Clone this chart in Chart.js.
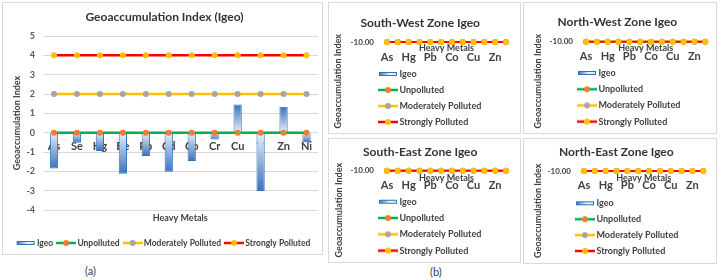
<!DOCTYPE html>
<html>
<head>
<meta charset="utf-8">
<script src="https://cdn.jsdelivr.net/npm/chart.js@4.4.1/dist/chart.umd.min.js"></script>
<style>
  body { margin: 0; background: #fff; width: 719px; height: 280px; position: relative; overflow: hidden; font-family: Lato, sans-serif; }
  .box { position: absolute; border: 1px solid #d9d9d9; box-sizing: border-box; }
  .box canvas { position: absolute; left: 0; top: 0; }
  .cap { position: absolute; font-size: 11px; color: #404040; }
</style>
</head>
<body>
<div class="box" style="left:2px;top:2px;width:321px;height:253px"><canvas id="chartA" width="319" height="251"></canvas></div>
<div class="box" style="left:328px;top:2px;width:193px;height:132px"><canvas id="chartSW" width="191" height="130"></canvas></div>
<div class="box" style="left:523px;top:2px;width:194px;height:132px"><canvas id="chartNW" width="192" height="130"></canvas></div>
<div class="box" style="left:328px;top:138px;width:193px;height:125px"><canvas id="chartSE" width="191" height="123"></canvas></div>
<div class="box" style="left:523px;top:138px;width:194px;height:126px"><canvas id="chartNE" width="192" height="124"></canvas></div>
<div class="cap" style="left:85px;top:264px">(a)</div>
<div class="cap" style="left:430px;top:265px">(b)</div>
<script>
// --- DONNÉES ---
const metals = ["As", "Se", "Hg", "Be", "Pb", "Cd", "Co", "Cr", "Cu", "V", "Zn", "Ni"];
const igeo = [-1.85, -0.52, -0.95, -2.12, -1.21, -2.02, -1.47, -0.35, 1.46, -3.02, 1.34, -0.49];
const unpolluted = [0, 0, 0, 0, 0, 0, 0, 0, 0, 0, 0, 0];
const moderately = [2, 2, 2, 2, 2, 2, 2, 2, 2, 2, 2, 2];
const strongly = [4, 4, 4, 4, 4, 4, 4, 4, 4, 4, 4, 4];
const yRangeA = [-4, 5];

// zones : tout est tracé sur -10.00
const zoneIgeo = [null, null, null, null, null, null, null, null, null, null, null, null];
const zoneLevel = [-10, -10, -10, -10, -10, -10, -10, -10, -10, -10, -10, -10];
const zoneTicks = [-10];
const zoneTitles = ["South-West Zone Igeo", "North-West Zone Igeo", "South-East Zone Igeo", "North-East Zone Igeo"];

Chart.defaults.font.family = "Lato";
Chart.defaults.color = "#404040";

// --- PASTILLES DE LÉGENDE ---
function lineSwatch(line, dot) {
  const c = document.createElement("canvas");
  c.width = 20; c.height = 8;
  const g = c.getContext("2d");
  g.strokeStyle = line; g.lineWidth = 2.5;
  g.beginPath(); g.moveTo(0, 4); g.lineTo(20, 4); g.stroke();
  g.fillStyle = dot;
  g.beginPath(); g.arc(10, 4, 3, 0, Math.PI * 2); g.fill();
  return c;
}
function barSwatch() {
  const c = document.createElement("canvas");
  c.width = 20; c.height = 8;
  const g = c.getContext("2d");
  const grad = g.createLinearGradient(1, 0, 19, 0);
  grad.addColorStop(0, "#3d6fc0");
  grad.addColorStop(0.6, "#eef3fa");
  grad.addColorStop(1, "#dbe6f4");
  g.fillStyle = grad; g.fillRect(1, 2, 18, 4);
  g.strokeStyle = "#2e75b6"; g.lineWidth = 1; g.strokeRect(1.5, 2.5, 17, 3);
  return c;
}
const swatches = [barSwatch(), lineSwatch("#00b050", "#ed7d31"), lineSwatch("#ffc000", "#a5a5a5"), lineSwatch("#ff0000", "#ffc000")];

function legendItems(chart) {
  return Chart.defaults.plugins.legend.labels.generateLabels(chart)
    .map((item) => ({ ...item, pointStyle: swatches[item.datasetIndex] }));
}
const byIndex = (a, b) => a.datasetIndex - b.datasetIndex;

// dégradé des barres : clair vers 0, foncé au bout
function barFill(ctx) {
  const chart = ctx.chart;
  const y = chart.scales.y;
  if (!y || ctx.raw == null) return "#8eaadb";
  const y0 = y.getPixelForValue(0), y1 = y.getPixelForValue(ctx.raw);
  if (!isFinite(y0) || !isFinite(y1) || y0 === y1) return "#8eaadb";
  const g = chart.ctx.createLinearGradient(0, y0, 0, y1);
  g.addColorStop(0, "#e9eff8");
  g.addColorStop(1, "#3d6fc0");
  return g;
}

function lineSet(label, data, line, dot, order, width) {
  return {
    type: "line", label: label, data: data, order: order, clip: false,
    borderColor: line, borderWidth: width,
    pointRadius: 3, pointBackgroundColor: dot, pointBorderColor: dot, pointBorderWidth: 0,
  };
}

// place la légende "chartArea" où on veut
const legendPlace = {
  id: "legendPlace",
  afterLayout(chart, args, opts) {
    const lg = chart.legend;
    if (!lg || opts.left === undefined) return;
    lg.left = opts.left; lg.right = opts.left + 200;
    lg.top = opts.top; lg.bottom = opts.top + 200;
  },
};

// --- (a) GRAPHIQUE PRINCIPAL ---
new Chart(document.getElementById("chartA"), {
  data: {
    labels: metals,
    datasets: [
      {
        type: "bar", label: "Igeo", data: igeo, order: 4,
        backgroundColor: barFill, borderColor: "#2e75b6", borderWidth: 1,
        barPercentage: 0.36, categoryPercentage: 1,
      },
      lineSet("Unpolluted", unpolluted, "#00b050", "#ed7d31", 3, 2.5),
      lineSet("Moderately Polluted", moderately, "#ffc000", "#a5a5a5", 2, 2.5),
      lineSet("Strongly Polluted", strongly, "#ff0000", "#ffc000", 1, 2.5),
    ],
  },
  options: {
    responsive: false,
    animation: false,
    layout: { padding: { left: 8, right: 4, top: 0, bottom: -3.25 } },
    scales: {
      x: {
        position: { y: 0 }, z: 1, offset: true,
        grid: { display: false, drawTicks: false }, border: { display: false },
        ticks: { padding: 7.4, autoSkip: false, maxRotation: 0, font: { size: 11, weight: "bold" }, color: "#404040" },
        afterFit: (s) => { s.height = 0; },
      },
      x2: {
        type: "category", position: "bottom",
        grid: { display: false, drawTicks: false }, border: { display: false }, ticks: { display: false },
        title: { display: true, text: "Heavy Metals", font: { size: 9, weight: "bold" }, color: "#404040", padding: { top: 2.6, bottom: 9.35 } },
      },
      y: {
        min: yRangeA[0], max: yRangeA[1],
        ticks: { stepSize: 1, padding: 7.5, font: { size: 9, weight: "bold" }, color: "#595959" },
        grid: { color: "#d9d9d9", drawTicks: false }, border: { display: false },
        title: { display: true, text: "Geoaccumulation Index", font: { size: 9, weight: "bold" }, color: "#404040", padding: { top: 0.6, bottom: 0 } },
        afterFit: (s) => { s.width = 31.5; },
      },
    },
    plugins: {
      title: { display: true, text: "Geoaccumulation Index (Igeo)", font: { size: 12, weight: "bold" }, color: "#333", padding: { top: 6.8, bottom: 11.8 } },
      legend: {
        position: "bottom",
        labels: { usePointStyle: true, pointStyleWidth: 14, padding: 6, font: { size: 8.5, weight: "bold" }, color: "#404040", generateLabels: legendItems, sort: byIndex },
      },
      tooltip: { enabled: false },
    },
  },
});

// --- (b) ZONES ---
function zoneChart(id, title, g) {
  const cv = document.getElementById(id);
  const pad = g.rowGap - 9;
  return new Chart(cv, {
    data: {
      labels: metals,
      datasets: [
        { type: "bar", label: "Igeo", data: zoneIgeo, order: 4, backgroundColor: "#9dc3e6", borderColor: "#2e75b6", borderWidth: 1 },
        lineSet("Unpolluted", zoneLevel, "#00b050", "#ed7d31", 3, 2),
        lineSet("Moderately Polluted", zoneLevel, "#ffc000", "#a5a5a5", 2, 2),
        lineSet("Strongly Polluted", zoneLevel, "#ff0000", "#ffc000", 1, 2),
      ],
    },
    options: {
      responsive: false,
      animation: false,
      layout: { padding: { left: 0, top: 0, right: cv.width - g.right, bottom: cv.height - g.bottom } },
      scales: {
        x: {
          position: { y: -10 }, z: 1, offset: true,
          grid: { display: false, drawTicks: false }, border: { display: false },
          ticks: {
            autoSkip: false, maxRotation: 0, padding: g.labelY - g.top - 6.6,
            font: { size: 11, weight: "bold" }, color: "#404040",
            callback: (v, i) => (i % 2 ? "" : metals[i]),
          },
          title: { display: true, text: "Heavy Metals", font: { size: 9, weight: "bold" }, color: "#404040", padding: { top: 0, bottom: g.top - g.hmY - 5.4 } },
          afterFit: (s) => { s.height = 0; },
        },
        y: {
          min: -30, max: -10,
          afterBuildTicks: (s) => { s.ticks = zoneTicks.map((v) => ({ value: v })); },
          ticks: { padding: g.left - g.tickRight, font: { size: 8, weight: "bold" }, color: "#404040", callback: (v) => Number(v).toFixed(2) },
          grid: { display: false, drawTicks: false }, border: { display: false },
          title: { display: true, text: "Geoaccumulation Index", font: { size: 9, weight: "bold" }, color: "#404040", padding: { top: g.yTitleX - 5.4, bottom: 0 } },
          afterFit: (s) => { s.width = g.left; },
        },
      },
      plugins: {
        title: { display: true, text: title, font: { size: 12, weight: "bold" }, color: "#333", padding: { top: g.titleY - 7.2, bottom: g.top - g.titleY - 7.2 } },
        legend: {
          position: "chartArea", align: "start",
          labels: { usePointStyle: true, pointStyleWidth: 14, padding: pad, font: { size: 9, weight: "bold" }, color: "#404040", generateLabels: legendItems, sort: byIndex },
        },
        legendPlace: { left: g.legLeft - pad + 3, top: g.legTop - 4.5 - pad },
        tooltip: { enabled: false },
      },
    },
    plugins: [legendPlace],
  });
}

zoneChart("chartSW", zoneTitles[0], { titleY: 20, top: 39, left: 52.6, right: 182.4, bottom: 125, yTitleX: 9, tickRight: 45, labelY: 54, hmY: 45, legLeft: 49, legTop: 71, rowGap: 16 });
zoneChart("chartNW", zoneTitles[1], { titleY: 19, top: 38.7, left: 56.6, right: 186.7, bottom: 123.3, yTitleX: 14.3, tickRight: 49, labelY: 53, hmY: 45, legLeft: 53, legTop: 70, rowGap: 16.2 });
zoneChart("chartSE", zoneTitles[2], { titleY: 13, top: 31.7, left: 52.6, right: 182.4, bottom: 122.3, yTitleX: 10, tickRight: 45, labelY: 46.7, hmY: 38.7, legLeft: 49, legTop: 62.7, rowGap: 16.3 });
zoneChart("chartNE", zoneTitles[3], { titleY: 13.3, top: 32, left: 54.6, right: 184.7, bottom: 118, yTitleX: 14, tickRight: 47, labelY: 46.7, hmY: 39.3, legLeft: 51, legTop: 64.3, rowGap: 15.9 });
</script>
</body>
</html>
